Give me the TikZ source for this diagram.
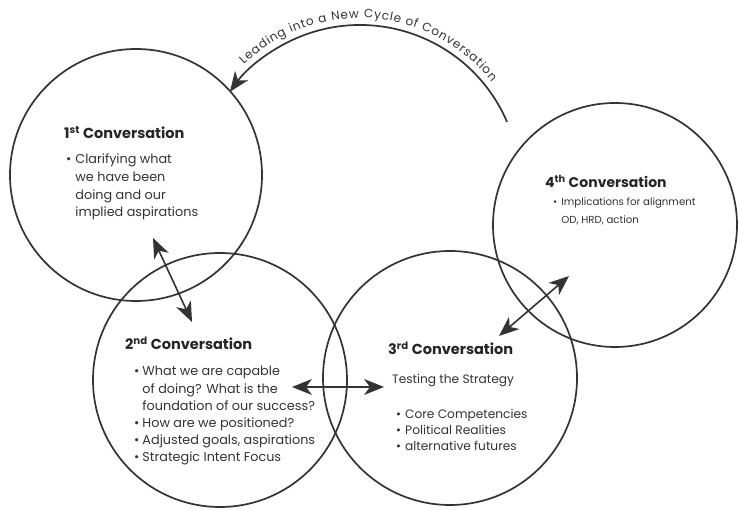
\documentclass[tikz,border=0pt]{standalone}
\usepackage{fontspec}
\setmainfont{Poppins}
\usetikzlibrary{arrows.meta,calc,decorations.text}
\begin{document}
\begin{tikzpicture}[x=1pt,y=1pt,
  ring/.style={circle,draw=black!80,line width=1.7pt,inner sep=0pt},
  dbl/.style={draw=black!80,line width=1.6pt,{Stealth[length=20pt,width=16pt,inset=6pt]}-{Stealth[length=20pt,width=16pt,inset=6pt]}},
  ttl/.style={anchor=base west,inner sep=0pt,font=\fontsize{14.5}{17}\selectfont\bfseries,text=black!85},
  body/.style={anchor=base west,inner sep=0pt,text=black!80}]
\useasboundingbox (0,0) rectangle (739,510);
\fill[white] (0,0) rectangle (739,510);
% circles
\node[ring,minimum size=252pt] (c1) at (136,335) {};
\node[ring,minimum size=254pt] (c2) at (220,130) {};
\node[ring,minimum size=254pt] (c3) at (450,132) {};
\node[ring,minimum size=244pt] (c4) at (615,285) {};
% return arc
\coordinate (arcc) at (360,325);
\coordinate (arcs) at ($(arcc)+(23.2:160)$);
\draw[draw=black!80,line width=1.7pt,-{Stealth[length=20pt,width=16pt,inset=6pt]}] (arcs) arc[start angle=23.2,end angle=144.4,radius=160];
\path[decorate,decoration={text along path,text align={fit to path},
  text={|\fontsize{12}{14}\selectfont\color{black!80}|Leading into a New Cycle of Conversation}}]
  ($(arcc)+(134:167)$) arc[start angle=134,end angle=38,radius=167];
% connectors
\coordinate (a1) at (153,272);
\coordinate (a2) at (192,188);
\draw[dbl] (a1) -- (a2);
\coordinate (b1) at (292,123);
\coordinate (b2) at (384,123);
\draw[dbl] (b1) -- (b2);
\coordinate (d1) at (499,174);
\coordinate (d2) at (569,234);
\draw[dbl] (d1) -- (d2);
% texts
\node[ttl] (t1) at (64,371) {1\textsuperscript{st} Conversation};
\node[body] (l1) at (66,346) {\fontsize{12.8}{17.6}\selectfont\begin{tabular}[t]{@{}l@{\hspace{4pt}}l@{}}
\textbullet & Clarifying what\\ & we have been\\ & doing and our\\ & implied aspirations\end{tabular}};
\node[ttl] (t2) at (125,160) {2\textsuperscript{nd} Conversation};
\node[body] (l2) at (134,134) {\fontsize{12.8}{17.2}\selectfont\begin{tabular}[t]{@{}l@{\hspace{3pt}}l@{}}
\textbullet & What we are capable\\ & of doing? What is the\\ & foundation of our success?\\
\textbullet & How are we positioned?\\ \textbullet & Adjusted goals, aspirations\\ \textbullet & Strategic Intent Focus\end{tabular}};
\node[ttl] (t3) at (388,155) {3\textsuperscript{rd} Conversation};
\node[body] (s3) at (392,126) {\fontsize{12.2}{16}\selectfont Testing the Strategy};
\node[body] (l3) at (396,91) {\fontsize{12.2}{16}\selectfont\begin{tabular}[t]{@{}l@{\hspace{4pt}}l@{}}
\textbullet & Core Competencies\\ \textbullet & Political Realities\\ \textbullet & alternative futures\end{tabular}};
\node[ttl] (t4) at (545,322) {\fontsize{14}{17}\selectfont 4\textsuperscript{th} Conversation};
\node[body] (l4) at (553,304) {\fontsize{10.2}{17.5}\selectfont\begin{tabular}[t]{@{}l@{\hspace{4pt}}l@{}}
\textbullet & Implications for alignment\\ & OD, HRD, action\end{tabular}};
\end{tikzpicture}
\end{document}
